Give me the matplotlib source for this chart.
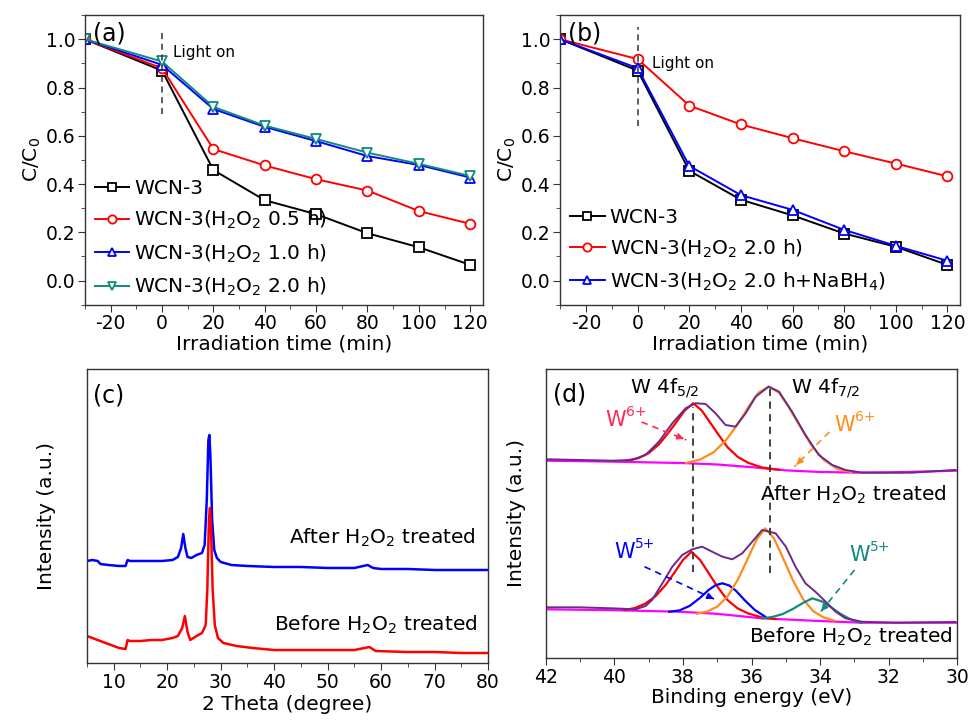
import matplotlib
matplotlib.use("Agg")
import matplotlib.pyplot as plt
from matplotlib.ticker import MultipleLocator, FormatStrFormatter

plt.rcParams['font.family'] = ['DejaVu Sans']
plt.rcParams['mathtext.default'] = 'regular'
plt.rcParams['axes.unicode_minus'] = False

# ---- (a) / (b) degradation data ----
time = [-30, 0, 20, 40, 60, 80, 100, 120]
wcn3_a = [1.0, 0.87, 0.458, 0.333, 0.275, 0.196, 0.138, 0.065]
h2o2_05 = [1.0, 0.88, 0.545, 0.477, 0.42, 0.373, 0.288, 0.235]
h2o2_10 = [1.0, 0.894, 0.711, 0.637, 0.578, 0.516, 0.479, 0.427]
h2o2_20 = [1.0, 0.908, 0.72, 0.642, 0.587, 0.53, 0.484, 0.433]

wcn3_b = [1.0, 0.87, 0.455, 0.335, 0.27, 0.195, 0.14, 0.065]
h2o2_20_b = [1.0, 0.918, 0.725, 0.647, 0.59, 0.536, 0.485, 0.432]
nabh4 = [1.0, 0.88, 0.475, 0.354, 0.293, 0.21, 0.144, 0.082]

# ---- (c) XRD ----
xrd_after_x = [5, 6, 7, 7.5, 9, 11, 12.2, 12.6, 13, 15, 17, 19, 21, 22, 22.6, 23.0, 23.4,
               23.8, 24.5, 25.5, 26.5, 27.0, 27.4, 27.7, 27.9, 28.1, 28.4, 28.8, 29.3, 30,
               32, 35, 40, 45, 50, 55, 57.5, 58.5, 60, 65, 70, 75, 80]
xrd_after_y = [102, 103, 102, 99, 98, 97, 97, 103, 102, 102, 102, 102, 103, 106, 115, 129, 115,
               106, 105, 108, 110, 118, 163, 223, 228, 203, 143, 113, 105, 101,
               98, 97, 96, 96, 95, 95, 98, 95, 94, 94, 93, 93, 93]
xrd_before_x = [5, 7, 9, 11, 12.2, 12.6, 13, 15, 17, 19, 21, 22, 22.8, 23.3, 23.8, 24.3,
                25.5, 26.5, 27.2, 27.5, 27.8, 28.0, 28.2, 28.5, 28.9, 29.5, 30.5, 33, 36,
                40, 45, 50, 55, 57.8, 59, 65, 70, 75, 80]
xrd_before_y = [27, 23, 19, 15, 14, 23, 22, 22, 23, 23, 25, 27, 35, 47, 31, 23,
                27, 30, 38, 73, 143, 155, 133, 73, 38, 25, 20, 17, 15,
                13, 13, 13, 13, 16, 12, 11, 11, 10, 10]

# ---- (d) XPS ----
after_exp_e = [42, 41.03, 40.06, 39.48, 39.09, 38.7, 38.31, 37.92, 37.63, 37.34, 37.05, 36.76,
               36.47, 36.17, 35.88, 35.5, 35.2, 34.82, 34.43, 34.04, 33.65, 33.26, 32.78,
               31.32, 30.06]
after_exp_i = [198.7, 198, 197.3, 198, 203, 216.3, 234.7, 249.7, 254.7, 254, 244.7, 233,
               231.3, 244.7, 261.3, 271.3, 266.3, 246.3, 223, 203, 193, 188, 185.3,
               185.3, 188]
after_bg_e = [42, 40, 38, 37, 36, 35, 34, 33, 32, 30]
after_bg_i = [197.3, 196.3, 194.9, 193.5, 190.8, 187.6, 186.0, 185.4, 185.6, 187.3]
after_w6a_e = [39.6, 39.3, 39.0, 38.7, 38.45, 38.2, 37.95, 37.7, 37.45, 37.2, 36.95, 36.7,
               36.4, 36.1, 35.7, 35.2]
after_w6a_i = [197.7, 199.8, 204.8, 213.6, 223.9, 235.5, 247.4, 254.7, 247.4, 235.0, 222.6,
               210.7, 201.0, 195.2, 190.5, 188.2]
after_w6b_e = [37.9, 37.5, 37.1, 36.75, 36.4, 36.1, 35.8, 35.5, 35.2, 34.9, 34.6, 34.25,
               33.9, 33.5, 33.1]
after_w6b_i = [195.2, 198.4, 205.8, 217.6, 233.9, 250.6, 265.3, 271.3, 265.3, 249.8, 232.3,
               212.4, 198.2, 189.1, 185.9]

before_exp_e = [42, 41.03, 40.06, 39.38, 39.09, 38.9, 38.6, 38.31, 38.02, 37.73, 37.44, 37.15,
                36.85, 36.56, 36.27, 35.98, 35.69, 35.3, 35.0, 34.72, 34.43, 34.14, 33.84,
                33.55, 33.26, 32.78, 31.8, 30.06]
before_exp_i = [50.7, 50.7, 49.7, 48.7, 52, 58, 74.7, 91.3, 103, 108.7, 111.3, 106.3,
                101.3, 98.7, 104.7, 116.3, 128, 124.7, 111.3, 91.3, 74.7, 66.3, 56.3,
                46.3, 39.7, 36.3, 35.3, 36]
before_bg_e = [42, 40, 38.1, 37, 35.7, 34.2, 32.8, 31, 30]
before_bg_i = [48.7, 47.8, 46.3, 44.2, 39.7, 37.3, 35.3, 35.3, 35.3]
before_w6a_e = [39.7, 39.4, 39.1, 38.8, 38.5, 38.25, 38.0, 37.75, 37.5, 37.25, 37.0, 36.7,
                36.4, 36.1, 35.7, 35.3]
before_w6a_i = [48.0, 50.0, 54.3, 61.8, 73.2, 85.3, 98.0, 106.3, 98.0, 84.9, 71.6, 57.9,
                49.5, 44.6, 40.6, 38.9]
before_w5a_e = [38.4, 38.1, 37.8, 37.5, 37.25, 37.05, 36.85, 36.65, 36.45, 36.2, 35.9, 35.6]
before_w5a_i = [46.3, 47.6, 52.2, 60.2, 68.1, 72.8, 74.7, 72.5, 67.1, 57.8, 47.9, 41.3]
before_w6b_e = [37.6, 37.3, 37.0, 36.7, 36.4, 36.1, 35.85, 35.6, 35.35, 35.1, 34.8, 34.5,
                34.2, 33.9, 33.6]
before_w6b_i = [44.3, 46.4, 51.4, 61.5, 78.4, 100.2, 118.6, 129.7, 119.8, 101.3, 78.0, 58.9,
                46.8, 40.6, 37.6]
before_w5b_e = [35.7, 35.4, 35.1, 34.8, 34.5, 34.23, 33.95, 33.7, 33.4, 33.1, 32.8]
before_w5b_i = [39.7, 41.0, 43.9, 49.0, 55.1, 59.7, 56.6, 51.2, 44.0, 38.4, 35.3]

BLACK = 'black'
RED = '#ff0000'
BLUE = '#0000ff'
TEAL = '#108a80'
ORANGE = '#ff8c1a'
PURPLE = '#6a2a8c'
MAGENTA = '#ff00ff'
TICK = 13.5
LAB = 14.5

fig = plt.figure(figsize=(9.71, 7.22), dpi=100)
ax_a = fig.add_axes([0.0875, 0.578, 0.410, 0.401])
ax_b = fig.add_axes([0.577, 0.578, 0.412, 0.401])
ax_c = fig.add_axes([0.0896, 0.0817, 0.413, 0.4073])
ax_d = fig.add_axes([0.562, 0.0886, 0.424, 0.4004])


def style(ax):
    for s in ax.spines.values():
        s.set_color('#333333')
        s.set_linewidth(1.0)
    ax.tick_params(which='both', direction='out', top=False, right=False, labelsize=TICK,
                   color='#333333', pad=2)
    ax.tick_params(which='major', length=5)
    ax.tick_params(which='minor', length=3)


def mk(color, marker):
    return dict(color=color, marker=marker, markerfacecolor='white', markeredgecolor=color,
                markersize=7, markeredgewidth=1.3, lw=1.4)


# (a)
ax_a.plot(time, wcn3_a, label='WCN-3', **mk(BLACK, 's'))
ax_a.plot(time, h2o2_05, label='WCN-3(H$_2$O$_2$ 0.5 h)', **mk(RED, 'o'))
ax_a.plot(time, h2o2_10, label='WCN-3(H$_2$O$_2$ 1.0 h)', **mk(BLUE, '^'))
ax_a.plot(time, h2o2_20, label='WCN-3(H$_2$O$_2$ 2.0 h)', **mk(TEAL, 'v'))

# (b)
ax_b.plot(time, wcn3_b, label='WCN-3', **mk(BLACK, 's'))
ax_b.plot(time, h2o2_20_b, label='WCN-3(H$_2$O$_2$ 2.0 h)', **mk(RED, 'o'))
ax_b.plot(time, nabh4, label='WCN-3(H$_2$O$_2$ 2.0 h+NaBH$_4$)', **mk(BLUE, '^'))

for ax, tag, top, bot, lx, ly, lsp, ly0 in [(ax_a, '(a)', 1.04, 0.69, 4.3, 0.944, 0.56, -0.02),
                                             (ax_b, '(b)', 1.05, 0.64, 5.7, 0.90, 0.52, 0.0)]:
    style(ax)
    ax.set_xlim(-30, 125)
    ax.set_ylim(-0.1, 1.1)
    ax.xaxis.set_major_locator(MultipleLocator(20))
    ax.xaxis.set_minor_locator(MultipleLocator(10))
    ax.yaxis.set_major_locator(MultipleLocator(0.2))
    ax.yaxis.set_minor_locator(MultipleLocator(0.1))
    ax.yaxis.set_major_formatter(FormatStrFormatter('%.1f'))
    ax.plot([0, 0], [bot, top], color='#333333', ls=(0, (4, 3)), lw=1.1)
    ax.text(lx, ly, 'Light on', fontsize=11, va='center', ha='left')
    ax.text(0.02, 0.938, tag, transform=ax.transAxes, fontsize=17, va='center', ha='left')
    ax.set_xlabel('Irradiation time (min)', fontsize=LAB, labelpad=1)
    ax.set_ylabel('C/C$_0$', fontsize=LAB, labelpad=2)
    ax.legend(loc='lower left', bbox_to_anchor=(-0.005, ly0), frameon=False,
              fontsize=LAB, handlelength=1.7, handletextpad=0.25, labelspacing=lsp,
              borderaxespad=0.2, markerscale=0.85)

# (c)
style(ax_c)
ax_c.plot(xrd_after_x, xrd_after_y, color=BLUE, lw=1.8)
ax_c.plot(xrd_before_x, xrd_before_y, color=RED, lw=1.8)
ax_c.set_xlim(5, 80)
ax_c.set_ylim(0, 294)
ax_c.xaxis.set_major_locator(MultipleLocator(10))
ax_c.xaxis.set_minor_locator(MultipleLocator(5))
ax_c.set_yticks([])
ax_c.set_xlabel('2 Theta (degree)', fontsize=LAB, labelpad=2)
ax_c.set_ylabel('Intensity (a.u.)', fontsize=LAB, labelpad=22)
ax_c.text(0.015, 0.91, '(c)', transform=ax_c.transAxes, fontsize=17, va='center')
ax_c.text(0.968, 0.425, 'After H$_2$O$_2$ treated', transform=ax_c.transAxes,
          fontsize=LAB, ha='right', va='center')
ax_c.text(0.973, 0.129, 'Before H$_2$O$_2$ treated', transform=ax_c.transAxes,
          fontsize=LAB, ha='right', va='center')

# (d)
style(ax_d)
ax_d.plot(after_bg_e, after_bg_i, color=MAGENTA, lw=1.6)
ax_d.plot(after_w6a_e, after_w6a_i, color=RED, lw=1.6)
ax_d.plot(after_w6b_e, after_w6b_i, color=ORANGE, lw=1.6)
ax_d.plot(after_exp_e, after_exp_i, color=PURPLE, lw=1.4)
ax_d.plot(before_bg_e, before_bg_i, color=MAGENTA, lw=1.6)
ax_d.plot(before_w6a_e, before_w6a_i, color=RED, lw=1.6)
ax_d.plot(before_w5a_e, before_w5a_i, color=BLUE, lw=1.6)
ax_d.plot(before_w6b_e, before_w6b_i, color=ORANGE, lw=1.6)
ax_d.plot(before_w5b_e, before_w5b_i, color=TEAL, lw=1.6)
ax_d.plot(before_exp_e, before_exp_i, color=PURPLE, lw=1.4)
ax_d.set_xlim(42, 30)
ax_d.set_ylim(0, 289)
ax_d.xaxis.set_major_locator(MultipleLocator(2))
ax_d.xaxis.set_minor_locator(MultipleLocator(1))
ax_d.set_yticks([])
ax_d.set_xlabel('Binding energy (eV)', fontsize=LAB, labelpad=1)
ax_d.set_ylabel('Intensity (a.u.)', fontsize=LAB, labelpad=14)

ax_d.plot([37.7, 37.7], [86, 251], color='#333333', ls=(0, (4, 3)), lw=1.3)
ax_d.plot([35.45, 35.45], [85, 273], color='#333333', ls=(0, (4, 3)), lw=1.3)
ax_d.text(0.017, 0.91, '(d)', transform=ax_d.transAxes, fontsize=17, va='center')
ax_d.text(38.53, 270, 'W 4f$_{5/2}$', fontsize=LAB, ha='center', va='center')
ax_d.text(33.84, 270, 'W 4f$_{7/2}$', fontsize=LAB, ha='center', va='center')
ax_d.text(0.973, 0.564, 'After H$_2$O$_2$ treated', transform=ax_d.transAxes,
          fontsize=LAB, ha='right', va='center')
ax_d.text(0.988, 0.073, 'Before H$_2$O$_2$ treated', transform=ax_d.transAxes,
          fontsize=LAB, ha='right', va='center')

# label split point (between "W" and its charge), arrow start, arrow end
arrows = [('6+', '#ff2a55', (39.67, 238), (39.21, 236), (37.90, 218)),
          ('6+', ORANGE, (33.0, 233), (33.73, 226), (34.75, 191.3)),
          ('5+', BLUE, (39.41, 106), (39.12, 91.3), (37.03, 58)),
          ('5+', TEAL, (32.56, 103), (33.0, 88), (34.02, 44.7))]
for charge, c, tpos, start, end in arrows:
    ax_d.text(tpos[0], tpos[1], 'W', color=c, fontsize=15, ha='right', va='center')
    ax_d.annotate(charge, xy=tpos, xytext=(0.5, 6), textcoords='offset points',
                  color=c, fontsize=10, ha='left', va='center')
    ax_d.plot([start[0], end[0]], [start[1], end[1]], color=c, ls=(0, (4, 3)), lw=1.2)
    mid = (start[0] + 0.85 * (end[0] - start[0]), start[1] + 0.85 * (end[1] - start[1]))
    ax_d.annotate('', xy=end, xytext=mid,
                  arrowprops=dict(arrowstyle='-|>', color=c, lw=1.2, mutation_scale=9))

fig.savefig('out.png', dpi=100)
